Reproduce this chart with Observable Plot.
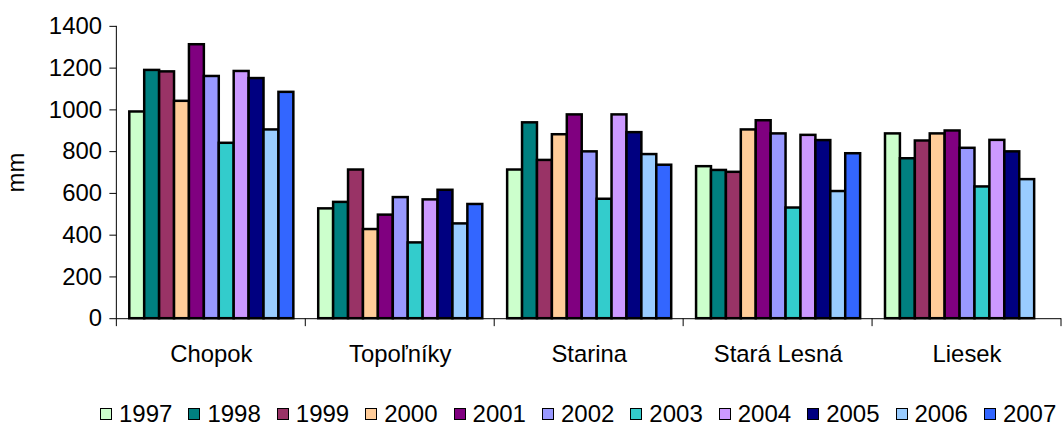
<!DOCTYPE html>
<html>
<head>
<meta charset="utf-8">
<script src="https://cdn.jsdelivr.net/npm/d3@7"></script>
<script src="https://cdn.jsdelivr.net/npm/@observablehq/plot@0.6"></script>
<style>
  html, body { margin: 0; padding: 0; background: #fff; overflow: hidden; }
  #chart { position: relative; width: 1064px; height: 426px; font-family: "Liberation Sans", Arial, sans-serif; }
  #legend { position: absolute; left: 100px; top: 402px; display: flex; align-items: center;
            font-size: 24px; line-height: 24px; white-space: nowrap; color: #000; }
  .item { display: flex; align-items: center; margin-right: 16px; }
  .sw { width: 12px; height: 12px; box-sizing: border-box; border: 1.5px solid #000; margin-right: 7px; }
</style>
</head>
<body>
<div id="chart"></div>
<script>
// Stations (categories) and years (series)
const stations = ["Chopok", "Topoľníky", "Starina", "Stará Lesná", "Liesek"];
const years = ["1997", "1998", "1999", "2000", "2001", "2002", "2003", "2004", "2005", "2006", "2007"];
const yearColors = ["#CCFFCC", "#008080", "#993366", "#FFCC99", "#800080", "#9999FF",
                    "#33CCCC", "#CC99FF", "#000080", "#99CCFF", "#3366FF"];
const yTicks = [0, 200, 400, 600, 800, 1000, 1200, 1400];

// Annual precipitation totals (mm), one value per year 1997–2007
const chopok     = [990, 1189, 1182, 1041, 1312, 1160, 840, 1184, 1150, 904, 1084];
const topolniky  = [526, 557, 712, 427, 496, 580, 363, 569, 615, 454, 547];
const starina    = [712, 938, 758, 881, 976, 799, 572, 976, 891, 786, 735];
const staraLesna = [728, 710, 701, 904, 948, 885, 530, 878, 853, 609, 790];
const liesek     = [885, 766, 851, 885, 899, 816, 631, 854, 799, 666, null];

const series = [chopok, topolniky, starina, staraLesna, liesek];
const rows = [];
stations.forEach((s, i) => years.forEach((y, j) => {
  const v = series[i][j];
  if (v != null) rows.push({station: s, year: y, value: v});
}));

const font = "Liberation Sans, Arial, sans-serif";

const plot = Plot.plot({
  width: 1070,
  height: 402,
  marginLeft: 117,
  marginRight: 3,
  marginTop: 26,
  marginBottom: 82,
  style: {fontFamily: font, fontSize: "24px", color: "#000", background: "#fff"},
  fx: {domain: stations, padding: 0},
  x: {domain: years, paddingInner: 0, paddingOuter: 0.72, axis: null},
  y: {domain: [0, 1400]},
  color: {domain: years, range: yearColors},
  marks: [
    Plot.barY(rows, {fx: "station", x: "year", y: "value", fill: "year",
                     stroke: "#000", strokeWidth: 2.5}),
    Plot.ruleY([0], {stroke: "#000", strokeWidth: 1}),
    Plot.axisY({ticks: yTicks, tickFormat: d => String(d), tickSize: 7, tickPadding: 8, fontSize: 24,
                label: "mm", labelAnchor: "center", labelArrow: "none", labelOffset: 110}),
    Plot.axisFx({anchor: "bottom", tickSize: 0, tickPadding: 26, fontSize: 24, label: null})
  ]
});

// Value axis line and category boundary ticks
const svg = d3.select(plot);
const fx = plot.scale("fx");
const y = plot.scale("y");
const x0 = fx.apply(stations[0]);
const y0 = y.apply(0);
svg.append("line")
  .attr("x1", x0).attr("x2", x0)
  .attr("y1", y.apply(1400)).attr("y2", y0)
  .attr("stroke", "#000");
const edges = stations.map(s => fx.apply(s));
edges.push(fx.apply(stations[stations.length - 1]) + fx.bandwidth);
svg.selectAll(".cat-tick").data(edges).join("line")
  .attr("x1", d => d).attr("x2", d => d)
  .attr("y1", y0).attr("y2", y0 + 8)
  .attr("stroke", "#000");

const chart = document.getElementById("chart");
chart.appendChild(plot);

// Legend of years
const legend = document.createElement("div");
legend.id = "legend";
years.forEach((yr, i) => {
  const item = document.createElement("div");
  item.className = "item";
  const sw = document.createElement("span");
  sw.className = "sw";
  sw.style.background = yearColors[i];
  const t = document.createElement("span");
  t.textContent = yr;
  item.append(sw, t);
  legend.appendChild(item);
});
chart.appendChild(legend);
</script>
</body>
</html>
